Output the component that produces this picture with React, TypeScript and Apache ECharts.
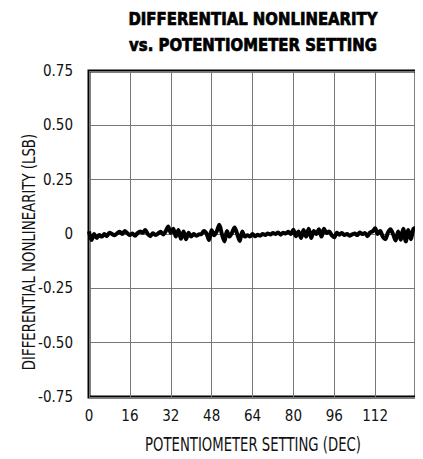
import React, { useEffect, useRef } from "react";
import * as echarts from "echarts";

const titleLines = ["DIFFERENTIAL NONLINEARITY", "vs. POTENTIOMETER SETTING"];
const xAxisName = "POTENTIOMETER SETTING (DEC)";
const yAxisName = "DIFFERENTIAL NONLINEARITY (LSB)";
const xTicks = [0, 16, 32, 48, 64, 80, 96, 112];
const yTicks = [-0.75, -0.5, -0.25, 0, 0.25, 0.5, 0.75];

// DNL (LSB) for codes 0..128
const dnl = [
  0.012, -0.028, 0.0, -0.018, -0.005, -0.012, 0.0, -0.01, 0.006, 0.0,
  -0.006, 0.003, 0.01, 0.0, 0.014, 0.004, -0.005, 0.002, -0.008, 0.004,
  0.012, 0.006, 0.018, 0.0, -0.01, 0.003, -0.005, 0.002, 0.01, -0.002,
  0.012, 0.035, 0.005, 0.024, -0.012, 0.018, -0.022, 0.012, -0.024, 0.006,
  -0.012, 0.0, -0.008, -0.002, 0.0, 0.014, 0.002, -0.028, 0.018, -0.006,
  0.012, 0.042, 0.0, -0.034, 0.014, -0.012, 0.006, 0.03, 0.0, -0.032,
  0.012, -0.012, -0.006, -0.012, 0.0, -0.01, -0.004, -0.008, 0.0, -0.005,
  0.002, -0.002, 0.005, 0.0, 0.007, -0.003, 0.006, 0.002, 0.01, 0.0,
  0.02, -0.01, 0.012, -0.018, 0.018, -0.012, 0.024, -0.018, 0.014, 0.0,
  0.022, -0.012, 0.024, 0.005, 0.012, -0.006, -0.015, 0.006, -0.003, 0.005,
  -0.005, 0.0, -0.008, -0.002, 0.002, -0.005, 0.007, 0.0, 0.005, -0.01,
  0.007, 0.012, 0.026, 0.0, 0.014, -0.012, -0.024, 0.006, 0.022, 0.0,
  -0.03, 0.012, -0.026, 0.024, -0.034, 0.018, -0.024, 0.024, 0.028,
];

const FONT = "'DejaVu Sans Condensed', 'Liberation Sans Narrow', sans-serif";

export default function App() {
  const ref = useRef<HTMLDivElement>(null);
  useEffect(() => {
    if (!ref.current) return;
    const chart = echarts.init(ref.current, undefined, { renderer: "svg" });
    const data = dnl.map((v, i) => [i, v]);
    const titleStyle = {
      fontFamily: FONT,
      fontWeight: "bold",
      fontSize: 18,
      fill: "#000",
      stroke: "#000",
      lineWidth: 0.7,
      align: "center",
      verticalAlign: "middle",
    };
    chart.setOption({
      animation: false,
      backgroundColor: "#ffffff",
      grid: {
        left: 89,
        right: 7,
        top: 71,
        bottom: 62,
        show: true,
        borderColor: "#000",
        borderWidth: 3,
        backgroundColor: "transparent",
      },
      xAxis: {
        type: "value",
        min: 0,
        max: 128,
        interval: 16,
        axisLine: { show: false },
        axisTick: { show: false },
        splitLine: { show: true, lineStyle: { color: "#777", width: 1 } },
        axisLabel: {
          margin: 11,
          fontFamily: FONT,
          fontSize: 15,
          color: "#111",
          formatter: (v: number) => (xTicks.includes(v) ? String(v) : ""),
        },
      },
      yAxis: {
        type: "value",
        min: -0.75,
        max: 0.75,
        interval: 0.25,
        axisLine: { show: false },
        axisTick: { show: false },
        splitLine: { show: true, lineStyle: { color: "#777", width: 1 } },
        axisLabel: {
          margin: 16,
          fontFamily: FONT,
          fontSize: 15,
          color: "#111",
          formatter: (v: number) => {
            const t = yTicks.find((y) => Math.abs(y - v) < 1e-9);
            if (t === undefined) return "";
            return t === 0 ? "0" : t.toFixed(2);
          },
        },
      },
      series: [
        {
          type: "line",
          data,
          showSymbol: false,
          smooth: 0.3,
          lineStyle: { color: "#000", width: 4 },
          z: 5,
        },
      ],
      graphic: [
        {
          type: "text",
          x: 253,
          y: 18.5,
          scaleX: 0.92,
          style: { ...titleStyle, text: titleLines[0] },
        },
        {
          type: "text",
          x: 253,
          y: 44.5,
          scaleX: 0.92,
          style: { ...titleStyle, text: titleLines[1] },
        },
        {
          type: "text",
          x: 253,
          y: 444,
          scaleX: 0.775,
          style: {
            text: xAxisName,
            fontFamily: FONT,
            fontSize: 19,
            fill: "#111",
            align: "center",
            verticalAlign: "middle",
          },
        },
        {
          type: "text",
          x: 29,
          y: 252,
          rotation: Math.PI / 2,
          scaleX: 0.87,
          style: {
            text: yAxisName,
            fontFamily: FONT,
            fontSize: 17,
            fill: "#111",
            align: "center",
            verticalAlign: "middle",
          },
        },
      ],
    });
    return () => chart.dispose();
  }, []);
  return <div ref={ref} style={{ width: 423, height: 459, marginLeft: -8, marginTop: -8 }} />;
}
